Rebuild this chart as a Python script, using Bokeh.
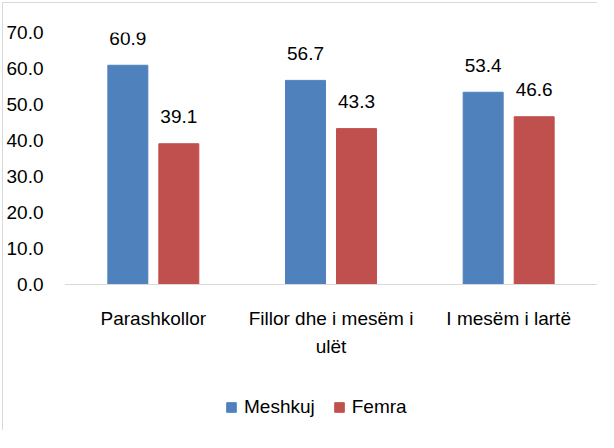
from bokeh.plotting import figure
from bokeh.models import (FactorRange, Range1d, ColumnDataSource, Legend, LegendItem,
                          NumeralTickFormatter, FixedTicker, Span)
from bokeh.transform import dodge
from bokeh.embed import file_html
from bokeh.resources import INLINE
from bokeh.core.properties import value

categories = ["Parashkollor", "Fillor dhe i mesëm i ulët", "I mesëm i lartë"]
category_line1 = ["Parashkollor", "Fillor dhe i mesëm i", "I mesëm i lartë"]
category_line2 = ["", "ulët", ""]
series = ["Meshkuj", "Femra"]
meshkuj = [60.9, 56.7, 53.4]
femra = [39.1, 43.3, 46.6]
y_ticks = [0, 10, 20, 30, 40, 50, 60, 70]

FONT = "Liberation Sans"
FS = "19px"
BLUE = "#4F81BD"
RED = "#C0504D"
GRAY = "#d9d9d9"

# layout geometry (pixels)
W, H = 595, 428
TOP, LEFT = 29, 61
PLOT_H = 252          # pixels from value 0 to value 70
BELOW = H - TOP - PLOT_H
y_max = max(y_ticks)
y_min = -y_max * BELOW / PLOT_H

src = ColumnDataSource(dict(
    cat=categories,
    m=meshkuj,
    f=femra,
    ml=[f"{v:.1f}" for v in meshkuj],
    fl=[f"{v:.1f}" for v in femra],
    line1=category_line1,
    line2=category_line2,
    base=[0, 0, 0],
))

p = figure(
    x_range=FactorRange(factors=categories, range_padding=0),
    y_range=Range1d(y_min, y_max),
    width=W, height=H,
    output_backend="svg", toolbar_location=None,
    x_axis_location=None,
    min_border_left=LEFT, min_border_right=1, min_border_top=TOP, min_border_bottom=0,
    styles={"border-left": f"1px solid {GRAY}", "border-top": f"1px solid {GRAY}",
            "margin-left": "2px", "margin-top": "2px"},
)

off = 0.1435
w = 0.225
rb = p.vbar(x=dodge("cat", -off, range=p.x_range), top="m", width=w, source=src,
            fill_color=BLUE, line_color=BLUE)
rr = p.vbar(x=dodge("cat", off, range=p.x_range), top="f", width=w, source=src,
            fill_color=RED, line_color=RED)

for col, lab, o in (("m", "ml", -off), ("f", "fl", off)):
    p.text(x=dodge("cat", o, range=p.x_range), y=col, text=lab, source=src,
           text_align="center", text_baseline="middle", y_offset=-27,
           text_font=value(FONT), text_font_size=FS, text_color="#000000")

# category axis line and labels
p.add_layout(Span(location=0, dimension="width", line_color=GRAY, line_width=1))
p.text(x="cat", y="base", text="line1", source=src, text_align="center",
       text_baseline="middle", y_offset=34,
       text_font=value(FONT), text_font_size=FS, text_color="#000000")
p.text(x="cat", y="base", text="line2", source=src, text_align="center",
       text_baseline="middle", y_offset=62,
       text_font=value(FONT), text_font_size=FS, text_color="#000000")

p.xgrid.visible = False
p.ygrid.visible = False
p.outline_line_color = None

p.yaxis.ticker = FixedTicker(ticks=y_ticks)
p.yaxis.formatter = NumeralTickFormatter(format="0.0")
p.yaxis.axis_line_color = None
p.yaxis.major_tick_line_color = None
p.yaxis.minor_tick_line_color = None
p.yaxis.major_label_standoff = 15
p.yaxis.major_label_text_font = FONT
p.yaxis.major_label_text_font_size = FS
p.yaxis.major_label_text_color = "#000000"

legend = Legend(
    items=[LegendItem(label=series[0], renderers=[rb]), LegendItem(label=series[1], renderers=[rr])],
    orientation="horizontal", location=(161, 13),
    border_line_color=None, background_fill_alpha=0,
    glyph_width=12, glyph_height=12, label_standoff=7, spacing=18,
    label_text_font=FONT, label_text_font_size=FS, label_text_color="#000000",
    margin=0, padding=0,
)
p.add_layout(legend, "center")

open("out.html", "w").write(file_html(p, INLINE))
